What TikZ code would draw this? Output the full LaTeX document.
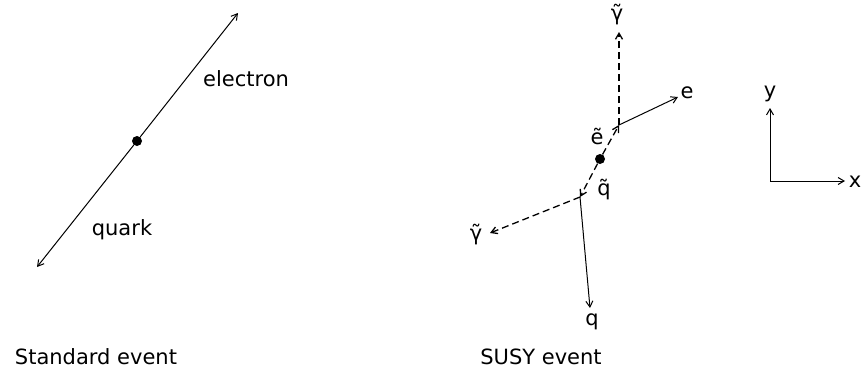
\documentclass[tikz,border=0pt]{standalone}
\usepackage{fontspec}
\setmainfont{DejaVu Sans}
\usetikzlibrary{arrows.meta}
\begin{document}
\begin{tikzpicture}[x=1pt,y=-1pt,
  lbl/.style={font=\fontsize{21}{24}\selectfont, inner sep=0pt},
  trk/.style={line width=1pt, -{Straight Barb[length=6pt,width=7pt]}},
  strk/.style={trk, line width=1.3pt, dash pattern=on 7pt off 4pt},
  vtx/.style={circle, fill=black, minimum size=10pt, inner sep=0pt}]
\useasboundingbox (0,0) rectangle (864,383);
% Standard event
\node[vtx] (sv) at (137,141) {};
\coordinate (stop) at (238,13);
\coordinate (sbot) at (37,267);
\draw[trk] (sv) -- (stop);
\draw[trk] (sv) -- (sbot);
\node[lbl] (elabel) at (246,79) {electron};
\node[lbl] (qlabel) at (122,230) {quark};
\node[lbl] (stdlabel) at (96,357) {Standard event};
% SUSY event
\node[vtx] (yv) at (600,159) {};
\coordinate (uv) at (619,125);
\coordinate (lv) at (580,197);
\coordinate (gtop) at (619,32);
\coordinate (etip) at (678,97);
\coordinate (gleft) at (490,233);
\coordinate (qtip) at (590,308);
\draw[strk] (yv) -- (uv);
\draw[strk] (yv) -- (lv);
\draw[strk] (uv) -- (gtop);
\draw[trk] (uv) -- (etip);
\draw[strk] (lv) -- (gleft);
\draw[trk] (lv) -- (qtip);
\node[lbl] (gtl) at (617,15) {γ̃};
\node[lbl] (el) at (687,93) {e};
\node[lbl] (sel) at (597,136) {ẽ};
\node[lbl] (sql) at (604,190) {q̃};
\node[lbl] (gll) at (476,235) {γ̃};
\node[lbl] (ql) at (592,322) {q};
\node[lbl] (susylabel) at (541,357) {SUSY event};
% axes
\coordinate (ao) at (770,181);
\coordinate (ay) at (770,108);
\coordinate (ax) at (845,181);
\draw[trk] (ao) -- (ay);
\draw[trk] (ao) -- (ax);
\node[lbl] (yl) at (770,94) {y};
\node[lbl] (xl) at (855,182) {x};
\end{tikzpicture}
\end{document}
